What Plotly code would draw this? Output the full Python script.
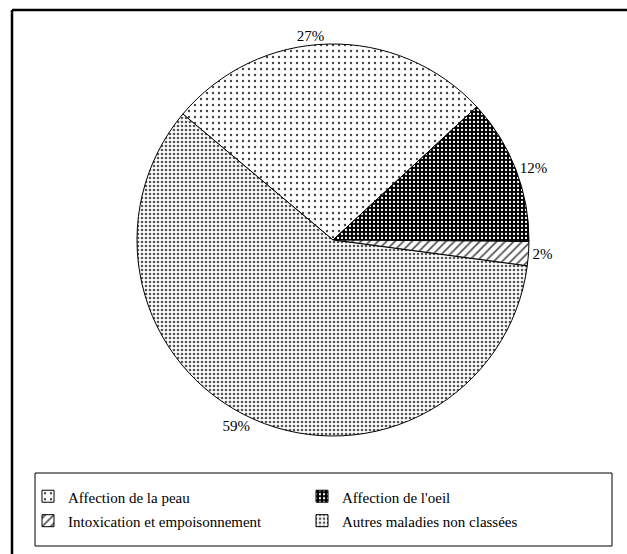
import plotly.graph_objects as go

labels = ["Affection de la peau", "Affection de l'oeil",
          "Intoxication et empoisonnement", "Autres maladies non classées"]
values = [27, 12, 2, 59]

shapes_ = [".", ".", "/", "."]
fg = ["#444444", "#ffffff", "#555555", "#555555"]
bg = ["#ffffff", "#000000", "#ffffff", "#ffffff"]
sizes = [6, 4, 6, 4]
solid = [0.12, 0.25, 0.3, 0.35]

W, H = 627, 554

# legend entries: legend font a bit larger to get taller rows, text itself at 15px
legend_labels = ["<span style='font-size:15px'>%s</span>" % s for s in labels]

fig = go.Figure(go.Pie(
    labels=legend_labels,
    values=values,
    sort=False,
    direction="clockwise",
    rotation=-50,
    textinfo="percent",
    texttemplate="%{percent:.0%}",
    textposition="outside",
    textfont=dict(family="Liberation Serif", size=15, color="black"),
    marker=dict(
        colors=bg,
        line=dict(color="black", width=1),
        pattern=dict(shape=shapes_, fgcolor=fg, bgcolor=bg, size=sizes,
                     solidity=solid, fillmode="replace"),
    ),
    domain=dict(x=[0.2185, 0.8437], y=[0.2130, 0.9206]),
    showlegend=True,
    hoverinfo="label+percent",
))

fig.update_layout(
    width=W, height=H,
    margin=dict(l=0, r=0, t=0, b=0),
    paper_bgcolor="white",
    plot_bgcolor="white",
    font=dict(family="Liberation Serif", size=15, color="black"),
    legend=dict(
        orientation="h",
        x=28 / W, y=1 - 479 / H, xanchor="left", yanchor="top",
        bgcolor="rgba(0,0,0,0)", borderwidth=0,
        entrywidth=229, entrywidthmode="pixels",
        font=dict(family="Liberation Serif", size=16.5),
        itemclick=False,
    ),
    shapes=[
        dict(type="line", xref="paper", yref="paper",
             x0=12 / W, x1=1.01, y0=1 - 10 / H, y1=1 - 10 / H,
             line=dict(color="black", width=2.5)),
        dict(type="line", xref="paper", yref="paper",
             x0=12 / W, x1=12 / W, y0=1 - 10 / H, y1=-0.01,
             line=dict(color="black", width=2.5)),
        dict(type="rect", xref="paper", yref="paper",
             x0=35 / W, x1=612 / W, y0=1 - 473 / H, y1=1 - 546 / H,
             line=dict(color="black", width=1)),
    ],
)

fig.write_html("out.html", config={"displayModeBar": False},
               post_script="document.body.style.margin='0px';")
